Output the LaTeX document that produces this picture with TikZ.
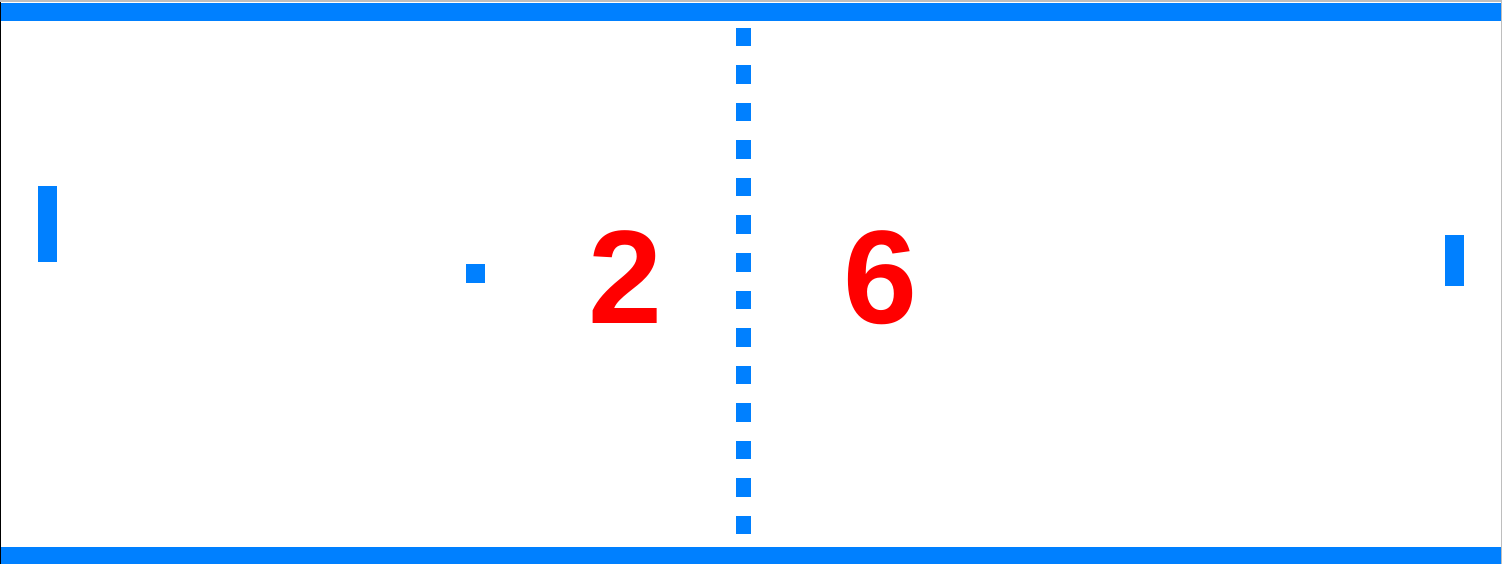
\documentclass[tikz,border=0pt]{standalone}
\usepackage{fontspec}
\setmainfont{Liberation Sans}
\definecolor{pongblue}{RGB}{0,128,255}
\definecolor{pongred}{RGB}{255,0,0}
\definecolor{edgegray}{RGB}{190,190,190}
\begin{document}
\begin{tikzpicture}[x=1pt,y=-1pt,
  solidblue/.style={fill=pongblue,draw=none},
  score/.style={text=pongred,font=\fontsize{133}{133}\selectfont\bfseries,inner sep=0pt,anchor=base}]
\useasboundingbox (0,0) rectangle (1502,564);
\fill[white] (0,0) rectangle (1502,564);
% frame edges
\fill[edgegray] (0,0) rectangle (1502,2.5);
\fill[edgegray] (1500.5,2.5) rectangle (1502,564);
\fill[black] (0,2.5) rectangle (1.4,564);
% walls
\fill[solidblue] (1.4,3) rectangle (1500.5,21.3);
\fill[solidblue] (1.4,547) rectangle (1500.5,564);
% net
\foreach \i in {0,...,13}{
  \fill[solidblue] (736,28+37.5*\i) rectangle (751,46.5+37.5*\i);
}
% paddles
\fill[solidblue] (38,186) rectangle (57,261.5);
\fill[solidblue] (1445,235) rectangle (1464,285.5);
% ball
\fill[solidblue] (466,264) rectangle (485,283);
% scores
\node[score] (left) at (625,323) {2};
\node[score] (right) at (880,323) {6};
\end{tikzpicture}
\end{document}
